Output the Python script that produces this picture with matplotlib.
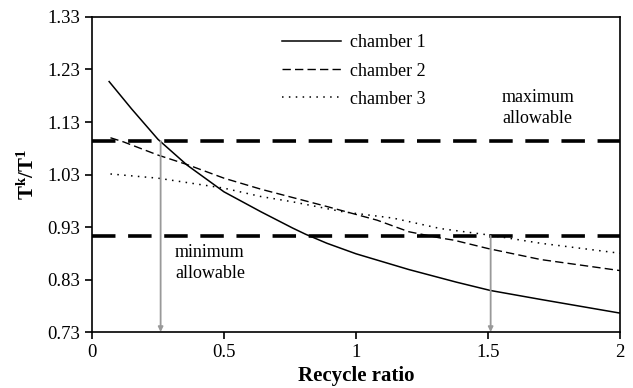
import numpy as np
import matplotlib
matplotlib.use("Agg")
import matplotlib.pyplot as plt

plt.rcParams["font.family"] = ["Liberation Serif", "DejaVu Serif"]
plt.rcParams["mathtext.fontset"] = "custom"
plt.rcParams["mathtext.rm"] = "Liberation Serif"
plt.rcParams["mathtext.bf"] = "Liberation Serif:bold"

# chamber 1 (solid)
x1 = [0.065, 0.15, 0.25, 0.36, 0.50, 0.64, 0.76, 0.81, 0.89, 1.0, 1.2, 1.38, 1.51, 1.70, 2.0]
y1 = [1.207, 1.155, 1.097, 1.048, 0.997, 0.959, 0.928, 0.916, 0.899, 0.879, 0.849, 0.825, 0.809, 0.792, 0.766]
# chamber 2 (dashed)
x2 = [0.07, 0.12, 0.25, 0.36, 0.50, 0.64, 0.89, 1.08, 1.2, 1.32, 1.37, 1.50, 1.70, 2.0]
y2 = [1.100, 1.092, 1.067, 1.049, 1.023, 1.002, 0.969, 0.943, 0.921, 0.909, 0.905, 0.889, 0.868, 0.847]
# chamber 3 (dotted)
x3 = [0.07, 0.25, 0.50, 0.64, 0.76, 0.95, 1.14, 1.32, 1.50, 1.70, 2.0]
y3 = [1.031, 1.023, 1.004, 0.988, 0.978, 0.959, 0.947, 0.927, 0.915, 0.899, 0.880]

t_max = 1.094
t_min = 0.913
x_arrow = [0.26, 1.51]

yticks = [0.73, 0.83, 0.93, 1.03, 1.13, 1.23, 1.33]
xticks = [0, 0.5, 1, 1.5, 2]
xticklabels = ["0", "0.5", "1", "1.5", "2"]

fig = plt.figure(figsize=(6.33, 3.88), dpi=100)
ax = fig.add_axes([0.1453, 0.1443, 0.8342, 0.8119])

ax.plot(x1, y1, color="black", lw=1.1, label="chamber 1")
ax.plot(x2, y2, color="black", lw=1.0, dashes=(6, 3), label="chamber 2")
ax.plot(x3, y3, color="black", lw=1.1, dashes=(1, 3.5), label="chamber 3")

ax.axhline(t_max, color="black", lw=2.6, dashes=(6.5, 3.5))
ax.axhline(t_min, color="black", lw=2.6, dashes=(6.5, 3.5))

for xa, ys in zip(x_arrow, [t_max, t_min]):
    ax.annotate("", xy=(xa, 0.73), xytext=(xa, ys),
                arrowprops=dict(arrowstyle="-|>", color="#999999", lw=1.3,
                                mutation_scale=7, shrinkA=0, shrinkB=0))

ax.text(1.553, 1.157, "maximum\nallowable", fontsize=13, va="center",
        ha="left", multialignment="left", linespacing=1.3)
ax.text(0.314, 0.861, "minimum\nallowable", fontsize=13, va="center",
        ha="left", multialignment="left", linespacing=1.3)

ax.legend(loc="upper left", bbox_to_anchor=(0.335, 0.985), frameon=False,
          fontsize=13, handlelength=3.3, handletextpad=0.5, labelspacing=0.62,
          borderaxespad=0.3)

ax.set_xlim(0, 2)
ax.set_ylim(0.73, 1.33)
ax.set_xticks(xticks)
ax.set_xticklabels(xticklabels)
ax.set_yticks(yticks)
ax.set_yticklabels([f"{v:.2f}" for v in yticks])
ax.tick_params(direction="out", length=5, width=1.2, labelsize=13.5, colors="black")
for sp in ax.spines.values():
    sp.set_linewidth(1.2)

ax.set_xlabel("Recycle ratio", fontsize=15, fontweight="bold", labelpad=4)
ax.set_ylabel(r"$\mathbf{T^k/T^1}$", fontsize=15, labelpad=6)

fig.savefig("out.png", dpi=100)
